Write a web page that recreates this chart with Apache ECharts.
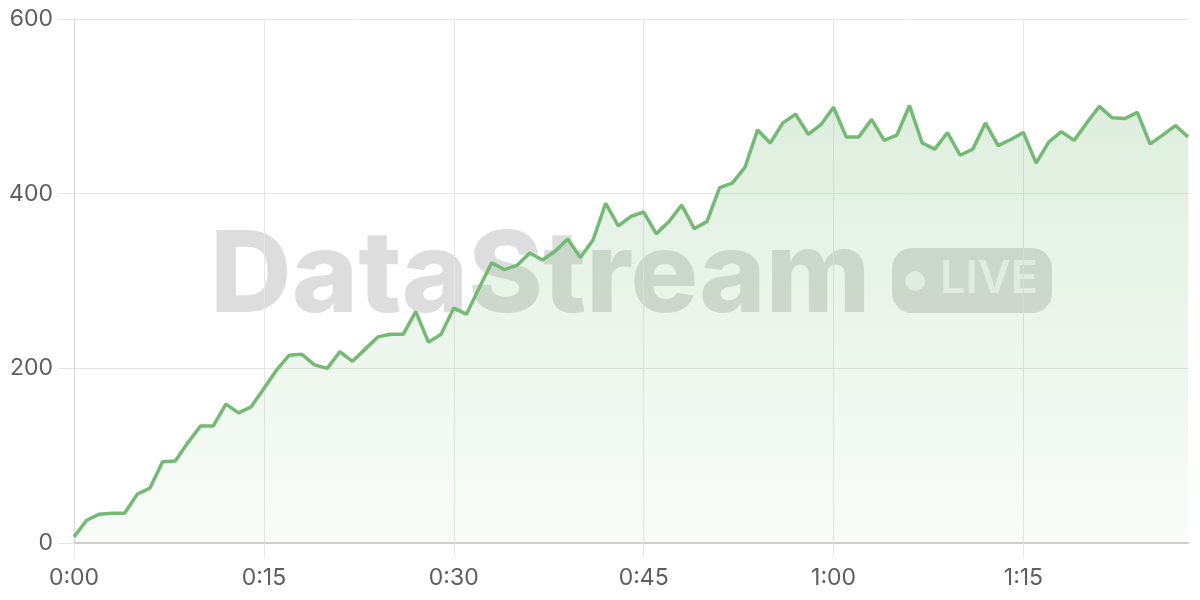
<!DOCTYPE html>
<html>
<head>
<meta charset="utf-8">
<script src="https://cdn.jsdelivr.net/npm/echarts@6/dist/echarts.min.js"></script>
<style>
html,body{margin:0;padding:0;background:#fff;}
#chart{width:1200px;height:600px;}
</style>
</head>
<body>
<div id="chart"></div>
<script>
const categories = [
  "0:00","0:01","0:02","0:03","0:04","0:05","0:06","0:07","0:08","0:09",
  "0:10","0:11","0:12","0:13","0:14","0:15","0:16","0:17","0:18","0:19",
  "0:20","0:21","0:22","0:23","0:24","0:25","0:26","0:27","0:28","0:29",
  "0:30","0:31","0:32","0:33","0:34","0:35","0:36","0:37","0:38","0:39",
  "0:40","0:41","0:42","0:43","0:44","0:45","0:46","0:47","0:48","0:49",
  "0:50","0:51","0:52","0:53","0:54","0:55","0:56","0:57","0:58","0:59",
  "1:00","1:01","1:02","1:03","1:04","1:05","1:06","1:07","1:08","1:09",
  "1:10","1:11","1:12","1:13","1:14","1:15","1:16","1:17","1:18","1:19",
  "1:20","1:21","1:22","1:23","1:24","1:25","1:26","1:27","1:28"
];
const values = [
  7, 26, 33, 34, 34, 56, 63, 93, 94, 115,
  134, 134, 159, 149, 156, 177, 198, 215, 216, 204,
  200, 219, 208, 222, 236, 239, 239, 265, 230, 239,
  269, 262, 292, 321, 313, 318, 332, 324, 334, 348,
  327, 347, 389, 363, 374, 379, 354, 368, 387, 360,
  368, 407, 412, 430, 473, 458, 481, 491, 468, 479,
  499, 465, 465, 485, 461, 467, 501, 458, 451, 470,
  444, 451, 481, 455, 462, 470, 435, 459, 471, 461,
  481, 500, 487, 486, 493, 457, 467, 478, 465
];
const yTicks = [0, 200, 400, 600];
const watermarkTitle = "DataStream";
const watermarkBadge = "LIVE";

const chart = echarts.init(document.getElementById('chart'), null, {renderer: 'canvas'});
const FONT = 'Inter, "Noto Sans", sans-serif';
const wmColor = 'rgba(0,0,0,0.135)';

chart.setOption({
  animation: false,
  backgroundColor: '#ffffff',
  grid: {left: 74, right: 12, top: 19, bottom: 57, containLabel: false},
  xAxis: {
    type: 'category',
    data: categories,
    boundaryGap: false,
    axisLine: {show: true, lineStyle: {color: '#cfcfcf', width: 2}},
    axisTick: {show: true, interval: 14, length: 15, lineStyle: {color: '#e6e6e6'}},
    axisLabel: {interval: 14, color: '#5e5e5e', fontSize: 23, fontFamily: FONT, margin: 24},
    splitLine: {show: true, interval: 14, lineStyle: {color: '#e6e6e6', width: 1}}
  },
  yAxis: {
    type: 'value',
    min: yTicks[0],
    max: yTicks[yTicks.length - 1],
    interval: yTicks[1] - yTicks[0],
    axisLine: {show: true, lineStyle: {color: '#d6d6d6', width: 1}},
    axisTick: {show: true, length: 16, lineStyle: {color: '#e6e6e6'}},
    axisLabel: {color: '#5e5e5e', fontSize: 23, fontFamily: FONT, margin: 21},
    splitLine: {show: true, lineStyle: {color: '#e6e6e6', width: 1}}
  },
  graphic: [
    {
      type: 'text', z: -10, silent: true,
      left: 210, top: 222,
      style: {text: watermarkTitle, font: '800 113px Inter', fill: wmColor}
    },
    {
      type: 'rect', z: -10, silent: true,
      shape: {x: 892, y: 248, width: 160, height: 65, r: 20},
      style: {fill: wmColor}
    },
    {
      type: 'circle', z: -9, silent: true,
      shape: {cx: 915, cy: 281, r: 10},
      style: {fill: 'rgba(255,255,255,0.7)'}
    },
    {
      type: 'text', z: -9, silent: true,
      left: 940, top: 257,
      style: {text: watermarkBadge, font: '600 45px Inter', fill: 'rgba(255,255,255,0.7)'}
    }
  ],
  series: [{
    type: 'line',
    data: values,
    symbol: 'none',
    smooth: false,
    lineStyle: {color: '#74ba74', width: 3.5},
    itemStyle: {color: '#74ba74'},
    areaStyle: {
      color: new echarts.graphic.LinearGradient(0, 0, 0, 1, [
        {offset: 0, color: 'rgba(116,186,116,0.34)'},
        {offset: 1, color: 'rgba(116,186,116,0.06)'}
      ])
    }
  }]
});
</script>
</body>
</html>
